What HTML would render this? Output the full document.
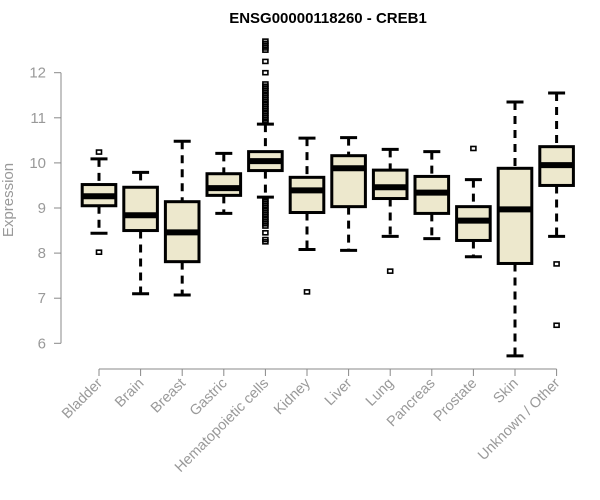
<!DOCTYPE html>
<html><head><meta charset="utf-8"><style>
body{margin:0;background:#fff}
svg{display:block;font-family:"Liberation Sans",Arial,sans-serif}
</style></head><body>
<svg id="chart" width="600" height="500" viewBox="0 0 600 500" xmlns="http://www.w3.org/2000/svg">
<text x="328" y="23" text-anchor="middle" font-size="15" font-weight="bold" fill="#000">ENSG00000118260 - CREB1</text>
<text transform="translate(13,200) rotate(-90)" text-anchor="middle" font-size="15" fill="#999">Expression</text>
<g id="axes"></g>
<g id="boxes"></g>
</svg>
<script>
const categories=["Bladder","Brain","Breast","Gastric","Hematopoietic cells","Kidney","Liver","Lung","Pancreas","Prostate","Skin","Unknown / Other"];
const whiskerLow=[8.44,7.10,7.07,8.88,9.24,8.08,8.06,8.37,8.32,7.92,5.72,8.37];
const q1=[9.05,8.50,7.81,9.28,9.83,8.90,9.03,9.21,8.88,8.28,7.77,9.50];
const medians=[9.26,8.84,8.46,9.44,10.04,9.39,9.88,9.46,9.34,8.72,8.97,9.95];
const q3=[9.52,9.46,9.14,9.76,10.25,9.68,10.16,9.84,9.70,9.03,9.88,10.36];
const whiskerHigh=[10.09,9.79,10.48,10.21,10.86,10.55,10.56,10.30,10.25,9.63,11.35,11.55];
const outliers=[[10.24,8.02],[],[],[],
[10.9,10.95,11.0,11.05,11.1,11.15,11.2,11.25,11.3,11.35,11.4,11.45,11.5,11.55,11.6,11.65,11.7,11.75,12.0,12.25,12.5,12.55,12.6,12.65,12.7,9.2,9.15,9.1,9.05,9.0,8.95,8.9,8.85,8.8,8.75,8.7,8.65,8.6,8.45,8.3,8.25],
[7.14],[],[7.60],[],[10.32],[],[7.76,6.40]];
const yTicks=[6,7,8,9,10,11,12];
const NS="http://www.w3.org/2000/svg";
function y(v){return 343.3-(v-6)*45.1;}
function x(i){return 99+i*41.6;}
function mk(tag,attrs,parent){const e=document.createElementNS(NS,tag);for(const k in attrs)e.setAttribute(k,attrs[k]);parent.appendChild(e);return e;}
const axes=document.getElementById('axes'),boxes=document.getElementById('boxes');
let a=mk('line',{x1:61,x2:61,y1:y(12),y2:y(6),stroke:'#888'},axes);


yTicks.forEach(t=>{
 let l=mk('line',{x1:54,x2:61,y1:y(t),y2:y(t),stroke:'#888'},axes);
 
 
 let tx=mk('text',{x:46,y:y(t)+5,'text-anchor':'end','font-size':15,fill:'#999'},axes);
 tx.textContent=t;
 
 
});
a=mk('line',{x1:x(0),x2:x(categories.length-1),y1:369,y2:369,stroke:'#888'},axes);


categories.forEach((c,i)=>{
 let l=mk('line',{x1:x(i),x2:x(i),y1:369,y2:376,stroke:'#888'},axes);
 
 
 let tx=mk('text',{transform:`translate(${x(i)+4},${384}) rotate(-45)`,'text-anchor':'end','font-size':14.5,fill:'#999'},axes);
 tx.textContent=c;
 
 
 const g=mk('g',{},boxes);
 
 
 const cx=x(i),hw=16.8,cw=8.5;
 mk('line',{x1:cx,x2:cx,y1:y(whiskerHigh[i]),y2:y(q3[i]),stroke:'#000','stroke-width':3,'stroke-dasharray':'8,6'},g);
 mk('line',{x1:cx,x2:cx,y1:y(q1[i]),y2:y(whiskerLow[i]),stroke:'#000','stroke-width':3,'stroke-dasharray':'8,6'},g);
 mk('line',{x1:cx-cw,x2:cx+cw,y1:y(whiskerHigh[i]),y2:y(whiskerHigh[i]),stroke:'#000','stroke-width':3},g);
 mk('line',{x1:cx-cw,x2:cx+cw,y1:y(whiskerLow[i]),y2:y(whiskerLow[i]),stroke:'#000','stroke-width':3},g);
 mk('rect',{x:cx-hw,y:y(q3[i]),width:hw*2,height:y(q1[i])-y(q3[i]),fill:'#ede8cd',stroke:'#000','stroke-width':3},g);
 mk('line',{x1:cx-hw,x2:cx+hw,y1:y(medians[i]),y2:y(medians[i]),stroke:'#000','stroke-width':6},g);
 outliers[i].forEach(v=>{
  let o=mk('rect',{x:cx-2.5,y:y(v)-2,width:5,height:4,fill:'none',stroke:'#000','stroke-width':1.6},g);
  
  
 });
});
</script>
</body></html>
